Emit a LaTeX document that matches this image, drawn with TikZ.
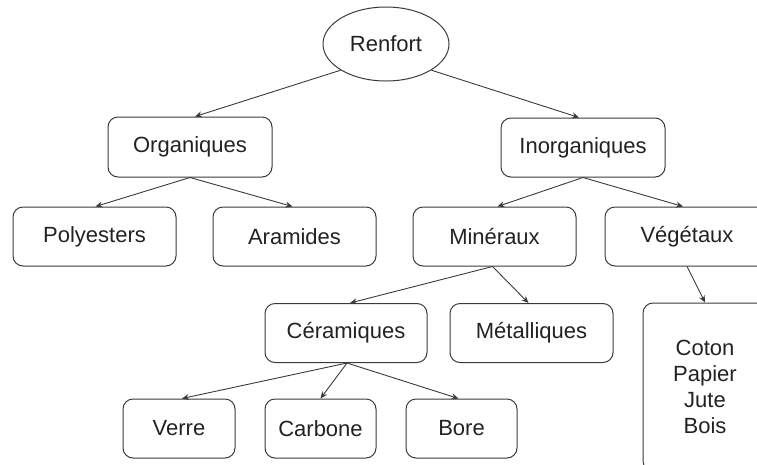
\documentclass[tikz,border=0pt]{standalone}
\usepackage{fontspec}
\setmainfont{Liberation Sans}
\usetikzlibrary{shapes.geometric,arrows.meta}
\definecolor{linec}{HTML}{3A3A3A}
\definecolor{textc}{HTML}{222222}
\tikzset{
  box/.style={draw=linec, line width=1pt, rounded corners=10pt, inner sep=0pt, minimum height=59pt, text=textc, font=\fontsize{22}{26}\selectfont, align=center},
  oval/.style={draw=linec, line width=1pt, ellipse, inner sep=0pt, minimum width=126pt, minimum height=74pt, text=textc, font=\fontsize{22}{26}\selectfont},
  conn/.style={draw=linec, line width=0.9pt, -{Stealth[length=7pt,width=6pt]}}
}
\begin{document}
\begin{tikzpicture}[x=1pt,y=-1pt]
\useasboundingbox (0,0) rectangle (757,464);
\clip (0,0) rectangle (757,464);
\node[oval] (renfort) at (386,44) {Renfort};
\node[box, minimum width=164pt, minimum height=60pt] (org) at (190,147) {Organiques};
\node[box, minimum width=164pt] (inorg) at (583,147.5) {Inorganiques};
\node[box, minimum width=163pt] (poly) at (94.5,236.5) {Polyesters};
\node[box, minimum width=163pt] (aram) at (294.5,236.5) {Aramides};
\node[box, minimum width=163pt] (miner) at (494.5,236.5) {Minéraux};
\node[box, minimum width=164pt] (veg) at (687,236.5) {Végétaux};
\node[box, minimum width=162pt] (cera) at (346,333) {Céramiques};
\node[box, minimum width=163pt] (metal) at (531.5,333) {Métalliques};
\node[box, minimum width=112pt] (verre) at (179,428.5) {Verre};
\node[box, minimum width=111pt] (carb) at (320.5,428.5) {Carbone};
\node[box, minimum width=111pt] (bore) at (461.5,428.5) {Bore};
\node[box, minimum width=124pt, minimum height=168pt] (coton) at (705,387) {Coton\\Papier\\Jute\\Bois};
\draw[conn] (renfort.210) -- ([xshift=5pt]org.north);
\draw[conn] (renfort.330) -- ([xshift=-4pt]inorg.north);
\draw[conn] (org.south) -- ([xshift=1pt]poly.north);
\draw[conn] (org.south) -- ([xshift=-2pt]aram.north);
\draw[conn] (inorg.south) -- ([xshift=3pt]miner.north);
\draw[conn] (inorg.south) -- ([xshift=-4pt]veg.north);
\draw[conn] ([xshift=-2pt]miner.south) -- ([xshift=4pt]cera.north);
\draw[conn] ([xshift=-2pt]miner.south) -- ([xshift=-3pt]metal.north);
\draw[conn] (veg.south) -- (coton.north);
\draw[conn] ([xshift=1pt]cera.south) -- ([xshift=3pt]verre.north);
\draw[conn] ([xshift=1pt]cera.south) -- (carb.north);
\draw[conn] ([xshift=1pt]cera.south) -- ([xshift=-3pt]bore.north);
\end{tikzpicture}
\end{document}
